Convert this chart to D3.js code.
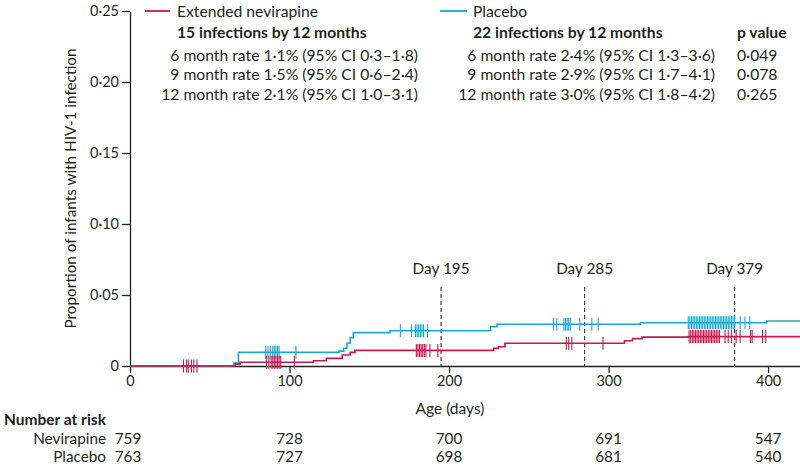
<!DOCTYPE html>
<html>
<head>
<meta charset="utf-8">
<script src="https://cdn.jsdelivr.net/npm/d3@7"></script>
<style>
  html, body { margin: 0; padding: 0; background: #fff; }
  svg text { font-family: Lato, "Open Sans", sans-serif; fill: #231f20; }
</style>
</head>
<body>
<svg id="chart" width="800" height="472"></svg>
<script>
// ---------- DATA ----------
const yTicks = [0, 0.05, 0.10, 0.15, 0.20, 0.25];
const yTickLabels = ["0", "0·05", "0·10", "0·15", "0·20", "0·25"];
const xTicks = [0, 100, 200, 300, 400];

// Kaplan–Meier step points (day, cumulative proportion infected)
const nevDays   = [0, 66, 69, 115, 123, 133, 138, 141, 228, 231, 235, 310, 315, 321, 350];
const nevValues = [0, 0.0013, 0.0026, 0.0037, 0.0054, 0.0077, 0.0096, 0.0110, 0.0124, 0.0136, 0.0160, 0.0178, 0.0193, 0.0203, 0.0207];
const plaDays   = [0, 65, 68, 131, 134, 136, 138, 140, 163, 226, 230, 320, 399];
const plaValues = [0, 0.0020, 0.0096, 0.0105, 0.0125, 0.0160, 0.0200, 0.0235, 0.0248, 0.0276, 0.0294, 0.0305, 0.0317];
const endDay = 420;

// Censoring marks (days)
const nevCensor = [33.5, 35.5, 36.5, 38.5, 40, 42,
  85.5, 87, 88.5, 89.5, 90.5, 91.5, 92.5, 93.5, 94.5, 103,
  179.5, 180.5, 181.5, 182.5, 183.5, 184.5, 185.5, 188, 193,
  273.5, 275, 277, 296.5,
  350.5, 351.5, 352.5, 353.5, 354.5, 355.5, 356.5, 357.5, 358.5, 359.5, 360.5, 361.5,
  362.5, 363.5, 364.5, 365.5, 366.5, 367.5, 368.5, 369.5,
  373, 375, 377, 380, 382.5, 389, 390, 396.5, 398.5];
const plaCensor = [85, 86.5, 88, 89.5, 90.5, 91.5, 92.5, 93.5, 104,
  169.5, 176.5, 179, 180, 181, 182, 183, 184, 186.5,
  265.5, 267.5, 272, 273, 274, 275, 276, 282, 289.5, 293.5,
  350, 351, 352, 353, 354, 355, 356, 357, 358, 359, 360, 361, 362, 363, 364, 365,
  366, 367, 368, 369, 370, 371, 372, 373, 374, 375, 376, 377, 378, 379,
  382.5, 385.5, 388.5];

const refDays = [195, 285, 379];
const refLabels = ["Day 195", "Day 285", "Day 379"];

const seriesNames = ["Extended nevirapine", "Placebo"];
const seriesTotals = ["15 infections by 12 months", "22 infections by 12 months"];
const nevRates = ["6 month rate 1·1% (95% CI 0·3–1·8)", "9 month rate 1·5% (95% CI 0·6–2·4)", "12 month rate 2·1% (95% CI 1·0–3·1)"];
const plaRates = ["6 month rate 2·4% (95% CI 1·3–3·6)", "9 month rate 2·9% (95% CI 1·7–4·1)", "12 month rate 3·0% (95% CI 1·8–4·2)"];
const pValues = ["0·049", "0·078", "0·265"];

const riskDays = [0, 100, 200, 300, 400];
const riskNev = [759, 728, 700, 691, 547];
const riskPla = [763, 727, 698, 681, 540];

// ---------- DRAW ----------
const nevColor = "#c8184d";
const plaColor = "#1fa8cc";
const axisColor = "#231f20";
const legendFont = 15.7;

const svg = d3.select("#chart");
const x = d3.scaleLinear().domain([0, 420]).range([130, 800]);
const y = d3.scaleLinear().domain([0, 0.25]).range([366, 11]);

// axes
const yAxis = d3.axisLeft(y).tickValues(yTicks).tickFormat((d, i) => yTickLabels[i]).tickSize(8).tickSizeOuter(0).tickPadding(3);
const gy = svg.append("g").attr("transform", "translate(130,0)").call(yAxis);
const xAxis = d3.axisBottom(x).tickValues(xTicks).tickSize(7).tickSizeOuter(0).tickPadding(3);
const gx = svg.append("g").attr("transform", "translate(0,366)").call(xAxis);
[gx, gy].forEach(g => {
  g.selectAll("path, line").attr("stroke", axisColor).attr("stroke-width", 1.3);
  g.selectAll("text").attr("font-size", 14.5).attr("fill", "#231f20").attr("font-family", "Lato, sans-serif");
});

// axis titles
svg.append("text").attr("x", 450).attr("y", 414).attr("text-anchor", "middle").attr("font-size", 15.5).text("Age (days)");
svg.append("text").attr("transform", "translate(76,188.5) rotate(-90)").attr("text-anchor", "middle").attr("font-size", 15.3)
  .text("Proportion of infants with HIV-1 infection");

// reference dashed lines
refDays.forEach((d, i) => {
  svg.append("line").attr("x1", x(d)).attr("x2", x(d)).attr("y1", 287).attr("y2", 366)
    .attr("stroke", "#3a3a3a").attr("stroke-width", 1.2).attr("stroke-dasharray", "4,3");
  svg.append("text").attr("x", x(d)).attr("y", 274).attr("text-anchor", "middle").attr("font-size", 15.3).text(refLabels[i]);
});

// step curves
function stepPts(days, vals) {
  const pts = days.map((d, i) => [d, vals[i]]);
  pts.push([endDay, vals[vals.length - 1]]);
  return pts;
}
function valAt(days, vals, t) {
  let v = 0;
  for (let i = 0; i < days.length; i++) if (days[i] <= t) v = vals[i];
  return v;
}
const line = d3.line().x(d => x(d[0])).y(d => y(d[1])).curve(d3.curveStepAfter);

const series = [
  { days: nevDays, vals: nevValues, censor: nevCensor, color: nevColor },
  { days: plaDays, vals: plaValues, censor: plaCensor, color: plaColor }
];
[series[1], series[0]].forEach(s => {
  svg.append("path").datum(stepPts(s.days, s.vals)).attr("d", line)
    .attr("fill", "none").attr("stroke", s.color).attr("stroke-width", 1.6);
  svg.append("g").selectAll("line").data(s.censor).join("line")
    .attr("x1", d => x(d)).attr("x2", d => x(d))
    .attr("y1", d => y(valAt(s.days, s.vals, d)) - 6.5)
    .attr("y2", d => y(valAt(s.days, s.vals, d)) + 6.5)
    .attr("stroke", s.color).attr("stroke-width", 1.1);
});

// legend
function legendBlock(lx1, lx2, tx, name, total, rates, rateEnd, color) {
  svg.append("line").attr("x1", lx1).attr("x2", lx2).attr("y1", 11).attr("y2", 11).attr("stroke", color).attr("stroke-width", 1.8);
  svg.append("text").attr("x", tx).attr("y", 16.5).attr("font-size", legendFont).text(name);
  svg.append("text").attr("x", tx).attr("y", 37.5).attr("font-size", legendFont).attr("font-weight", "bold").text(total);
  rates.forEach((r, i) => {
    svg.append("text").attr("x", rateEnd).attr("y", 60.5 + i * 19.7).attr("text-anchor", "end").attr("font-size", legendFont).text(r);
  });
}
legendBlock(145, 170, 177, seriesNames[0], seriesTotals[0], nevRates, 418, nevColor);
legendBlock(440, 467, 473, seriesNames[1], seriesTotals[1], plaRates, 715, plaColor);
svg.append("text").attr("x", 737).attr("y", 37.5).attr("font-size", legendFont).attr("font-weight", "bold").text("p value");
pValues.forEach((p, i) => {
  svg.append("text").attr("x", 737).attr("y", 60.5 + i * 19.7).attr("font-size", legendFont).text(p);
});

// number at risk
svg.append("text").attr("x", 4).attr("y", 425).attr("font-size", 15.5).attr("font-weight", "bold").text("Number at risk");
[["Nevirapine", riskNev, 444], ["Placebo", riskPla, 462]].forEach(([lab, vals, yy]) => {
  svg.append("text").attr("x", 106).attr("y", yy).attr("text-anchor", "end").attr("font-size", 15.3).text(lab);
  riskDays.forEach((d, i) => {
    svg.append("text")
      .attr("x", i === 0 ? x(d) - 2 : x(d))
      .attr("y", yy)
      .attr("text-anchor", "middle")
      .attr("font-size", 15.3)
      .text(vals[i]);
  });
});
</script>
</body>
</html>
